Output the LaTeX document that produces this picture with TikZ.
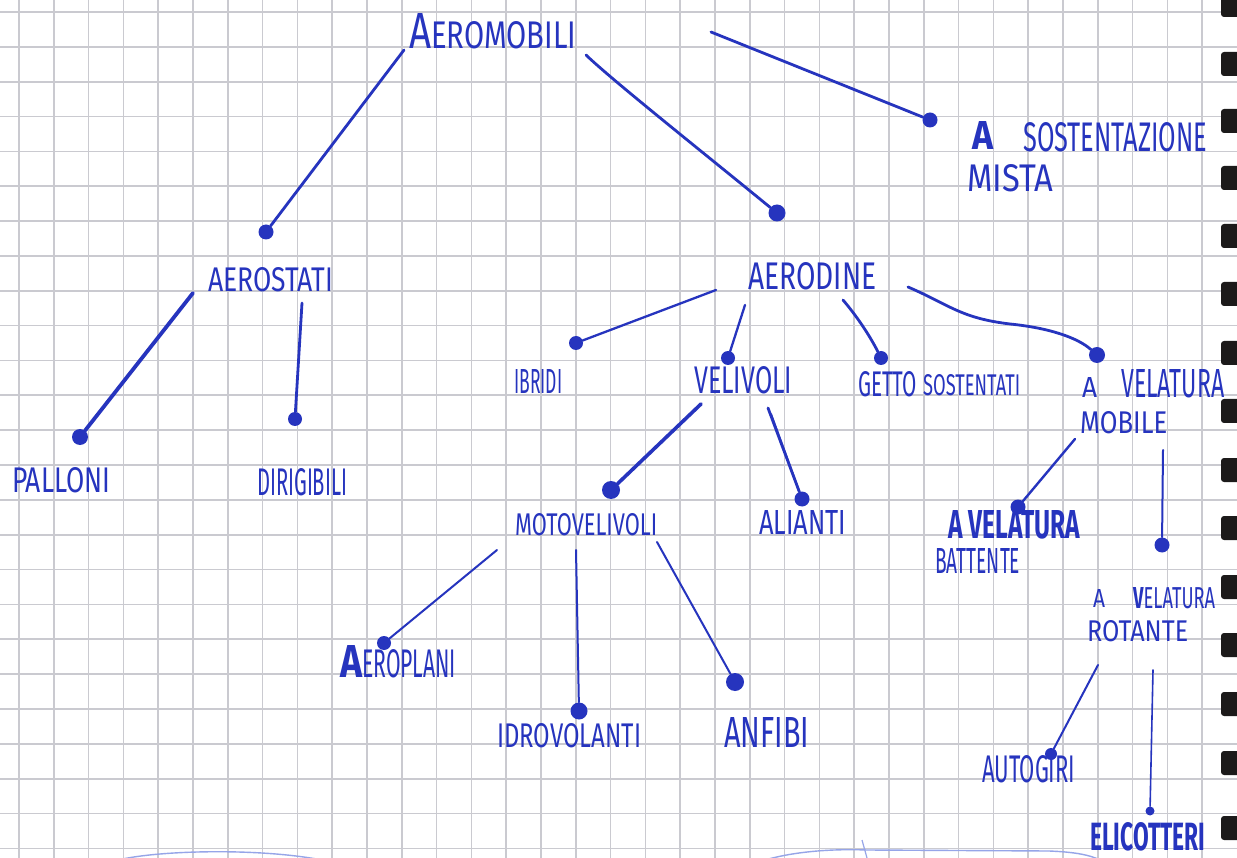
\documentclass[tikz,border=0pt]{standalone}
\usepackage{graphicx}
\usepackage{fontspec}
\setmainfont{Fira Sans}
\definecolor{ink}{RGB}{38,52,190}
\definecolor{gridc}{RGB}{202,202,208}
\definecolor{faint}{RGB}{150,165,232}
\definecolor{ring}{RGB}{28,26,26}
% handwritten-looking label: width, cap height, text
\newcommand{\hw}[3]{\resizebox{#1pt}{#2pt}{#3}}
\tikzset{
  gridline/.style={draw=gridc, line width=1.7pt},
  conn/.style={draw=ink, line width=2.8pt, line cap=round},
  thinconn/.style={draw=ink, line width=2pt, line cap=round},
  inkdot/.style={circle, fill=ink, inner sep=0pt, minimum size=#1},
  lab/.style={inner sep=0pt, anchor=base west, text=ink},
}
\begin{document}
\begin{tikzpicture}[x=1pt,y=-1pt]
\useasboundingbox (0,0) rectangle (1237,858);
\fill[white] (0,0) rectangle (1237,858);

% squared paper
\foreach \k in {0,...,34} \draw[gridline] ({19+34.8*\k},0) -- ({19+34.8*\k},858);
\foreach \k in {0,...,24} \draw[gridline] (0,{12+34.85*\k}) -- (1237,{12+34.85*\k});

% spiral binding holes
\foreach \c in {5,64,121,178,236,294,353,411,470,528,587,645,704,763,828}
  \fill[ring, rounded corners=3pt] (1221,\c-12) rectangle (1250,\c+12);

% faint strokes along the bottom edge
\draw[faint, line width=1.4pt] (118,860) .. controls (160,850) and (260,848) .. (322,860);
\draw[faint, line width=1.4pt] (765,860) .. controls (800,850) and (840,849) .. (867,850)
  -- (1049,851) .. controls (1075,852) and (1090,855) .. (1100,860);
\draw[faint, line width=1.2pt] (862,840) -- (867,858);

% labels
\node[lab] (aeromobili) at (409,49) {\hw{22}{35}{A}\hw{145}{27}{EROMOBILI}};
\node[lab] (mistaA) at (972,150) {\hw{21}{28}{\bfseries A}};
\node[lab] (mistaB) at (1023,152) {\hw{184}{29}{SOSTENTAZIONE}};
\node[lab] (mistaC) at (967,192) {\hw{86}{27}{MISTA}};
\node[lab] (aerostati) at (208,292) {\hw{125}{24}{AEROSTATI}};
\node[lab] (palloni) at (12,492) {\hw{98}{25}{PALLONI}};
\node[lab] (dirigibili) at (257,495) {\hw{90}{27}{DIRIGIBILI}};
\node[lab] (aerodine) at (748,290) {\hw{128}{27}{AERODINE}};
\node[lab] (ibridi) at (514,393) {\hw{48}{24}{IBRIDI}};
\node[lab] (velivoli) at (694,394) {\hw{98}{27}{VELIVOLI}};
\node[lab] (getto) at (858,397) {\hw{59}{25}{GETTO}};
\node[lab] (sostentati) at (923,396) {\hw{97}{21}{SOSTENTATI}};
\node[lab] (mobileA) at (1082,398) {\hw{15}{20}{A}};
\node[lab] (mobileB) at (1121,398) {\hw{103}{28}{VELATURA}};
\node[lab] (mobileC) at (1080,433) {\hw{87}{22}{MOBILE}};
\node[lab] (motovelivoli) at (515,535) {\hw{142}{22}{MOTOVELIVOLI}};
\node[lab] (alianti) at (759,534) {\hw{87}{24}{ALIANTI}};
\node[lab] (aeroplani) at (340,677) {\hw{22}{32}{\bfseries A}\hw{94}{28}{EROPLANI}};
\node[lab] (idrovolanti) at (497,747) {\hw{144}{24}{IDROVOLANTI}};
\node[lab] (anfibi) at (724,747) {\hw{85}{30}{ANFIBI}};
\node[lab] (battenteA) at (948,538) {\hw{132}{28}{\bfseries A VELATURA}};
\node[lab] (battenteB) at (935,573) {\hw{85}{25}{BATTENTE}};
\node[lab] (rotanteA) at (1093,607) {\hw{12}{18}{A}};
\node[lab] (rotanteB) at (1133,608) {\hw{82}{21}{\bfseries V\mdseries ELATURA}};
\node[lab] (rotanteC) at (1087,641) {\hw{101}{21}{ROTANTE}};
\node[lab] (autogiri) at (982,782) {\hw{93}{27}{AUTOGIRI}};
\node[lab] (elicotteri) at (1090,850) {\hw{115}{28}{\bfseries ELICOTTERI}};

% dots that end the connectors
\node[inkdot=15pt] (d-aerostati) at (266,232) {};
\node[inkdot=17pt] (d-aerodine) at (777,213) {};
\node[inkdot=15pt] (d-mista) at (930,120) {};
\node[inkdot=16pt] (d-palloni) at (80,437) {};
\node[inkdot=14pt] (d-dirigibili) at (295,419) {};
\node[inkdot=14pt] (d-ibridi) at (576,343) {};
\node[inkdot=14pt] (d-velivoli) at (728,358) {};
\node[inkdot=14pt] (d-getto) at (881,358) {};
\node[inkdot=16pt] (d-mobile) at (1097,355) {};
\node[inkdot=18pt] (d-motovelivoli) at (611,490) {};
\node[inkdot=15pt] (d-alianti) at (802,499) {};
\node[inkdot=14pt] (d-aeroplani) at (384,643) {};
\node[inkdot=17pt] (d-idrovolanti) at (579,711) {};
\node[inkdot=18pt] (d-anfibi) at (735,682) {};
\node[inkdot=15pt] (d-battente) at (1018,507) {};
\node[inkdot=15pt] (d-rotante) at (1162,545) {};
\node[inkdot=12pt] (d-autogiri) at (1051,754) {};
\node[inkdot=9pt] (d-elicotteri) at (1150,811) {};

% free ends of the connectors, just off each parent label
\coordinate (s-aerostati) at (404,50);
\coordinate (s-aerodine) at (586,55);
\coordinate (s-mista) at (711,32);
\coordinate (s-palloni) at (193,293);
\coordinate (s-dirigibili) at (302,303);
\coordinate (s-ibridi) at (716,290);
\coordinate (s-velivoli) at (745,305);
\coordinate (s-getto) at (843,300);
\coordinate (s-mobile) at (908,287);
\coordinate (s-motovelivoli) at (701,404);
\coordinate (s-alianti) at (768,408);
\coordinate (s-alianti2) at (771,414);
\coordinate (s-aeroplani) at (497,550);
\coordinate (s-idrovolanti) at (576,550);
\coordinate (s-anfibi) at (657,542);
\coordinate (s-battente) at (1075,439);
\coordinate (s-rotante) at (1163,450);
\coordinate (s-autogiri) at (1098,665);
\coordinate (s-elicotteri) at (1153,670);

% connectors
\draw[conn] (s-aerostati) -- (d-aerostati);
\draw[conn] (s-aerodine) .. controls (612,80) and (700,150) .. (d-aerodine);
\draw[conn] (s-mista) -- (d-mista);
\draw[conn, line width=3.8pt] (s-palloni) -- (d-palloni);
\draw[conn] (s-dirigibili) -- (d-dirigibili);
\draw[conn, line width=2.3pt] (s-ibridi) -- (d-ibridi);
\draw[conn, line width=2.3pt] (s-velivoli) -- (d-velivoli);
\draw[conn] (s-getto) .. controls (860,320) and (872,340) .. (d-getto);
\draw[conn] (s-mobile) .. controls (950,305) and (960,318) .. (1010,324)
  .. controls (1050,328) and (1078,338) .. (d-mobile);
\draw[conn, line width=3.6pt] (s-motovelivoli) -- (d-motovelivoli);
\draw[conn] (s-alianti) -- (d-alianti);
\draw[thinconn] (s-alianti2) -- (d-alianti);
\draw[thinconn] (s-aeroplani) -- (d-aeroplani);
\draw[thinconn] (s-idrovolanti) -- (d-idrovolanti);
\draw[thinconn] (s-anfibi) -- (d-anfibi);
\draw[conn, line width=2.4pt] (s-battente) -- (d-battente);
\draw[thinconn] (s-rotante) -- (d-rotante);
\draw[thinconn] (s-autogiri) -- (d-autogiri);
\draw[thinconn, line width=1.6pt] (s-elicotteri) -- (d-elicotteri);
\end{tikzpicture}
\end{document}
